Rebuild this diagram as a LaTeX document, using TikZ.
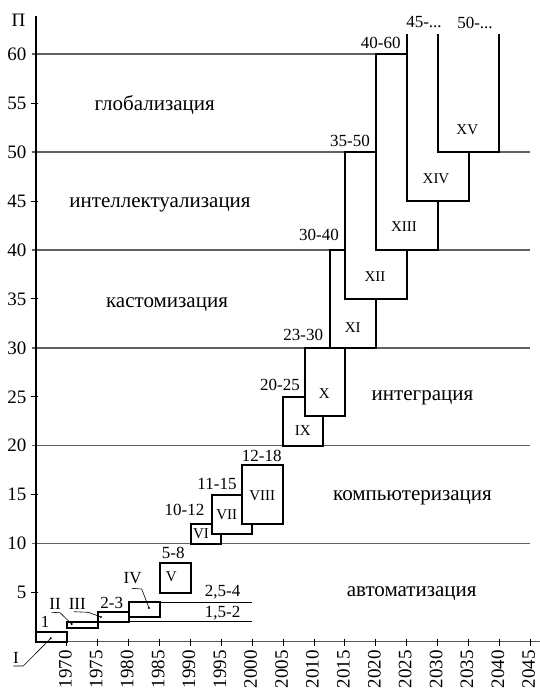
\documentclass[tikz,border=0pt]{standalone}
\usepackage{fontspec}
\setmainfont{Liberation Serif}
\begin{document}
\begin{tikzpicture}[x=1pt,y=-1pt,
  gridline/.style={draw=black!62, line width=1.5pt},
  axisline/.style={draw=black, line width=1.2pt},
  xaxisline/.style={draw=black!65, line width=1.5pt},
  tickline/.style={draw=black, line width=1pt},
  levline/.style={draw=black, line width=1.1pt},
  box/.style={draw=black, line width=2pt, fill=white, line join=miter},
  lead/.style={draw=black, line width=0.6pt},
  dotmark/.style={fill=black, circle, inner sep=0pt, minimum size=2.4pt},
  reglabel/.style={font=\fontsize{21}{24}\selectfont, inner sep=0pt},
  axnum/.style={font=\fontsize{19}{21}\selectfont, inner sep=0pt},
  rng/.style={font=\fontsize{17}{19}\selectfont, inner sep=0pt},
  rom/.style={font=\fontsize{15}{17}\selectfont, inner sep=0pt},
]
\useasboundingbox (0,0) rectangle (540,691);

% grid lines
\foreach \v/\yy in {10/543.6, 20/445.7, 30/347.8, 40/249.9, 50/152.0} {
  \draw[gridline] (32,\yy) -- (530.3,\yy);
}
\draw[gridline] (32,54.1) -- (375.8,54.1);

% axes
\draw[xaxisline] (36,641.5) -- (540,641.5);
\draw[axisline] (36,16) -- (36,641.5);

% y ticks at odd fives
\foreach \yy in {103.1, 201.0, 298.9, 396.8, 494.6, 592.6} {
  \draw[tickline] (31,\yy) -- (38,\yy);
}
% y tick labels
\foreach \lab/\yy in {60/54.1, 55/103.1, 50/152.0, 45/201.0, 40/249.9, 35/298.9, 30/347.8, 25/396.8, 20/445.7, 15/494.6, 10/543.6, 5/592.6} {
  \node[axnum, anchor=east] (yl\lab) at (26.5,\yy) {\lab};
}
\node[axnum] (ylab) at (18.5,20.5) {П};

% x ticks and labels
\foreach \yr [evaluate=\yr as \xx using {36+(\yr-1965)*6.178}] in {1970,1975,...,2045} {
  \draw[tickline] (\xx,638.5) -- (\xx,645.5);
  \node[axnum, rotate=90, anchor=east] (xl\yr) at (\xx-1.5,650) {\yr};
}

% level lines 1,5-2 and 2,5-4
\draw[levline] (128.7,621.7) -- (252.2,621.7);
\draw[levline] (159.6,602.3) -- (252.2,602.3);

% boxes
\draw[box] (36,631.7) rectangle (66.9,641.5);
\draw[box] (66.9,621.7) rectangle (97.8,628.0);
\draw[box] (97.8,612.1) rectangle (128.7,621.7);
\draw[box] (128.7,602.3) rectangle (159.6,617.0);
\draw[box] (159.6,563.2) rectangle (190.5,592.6);
\draw[box] (190.5,524.0) rectangle (221.3,543.6);
\draw[box] (211.7,494.6) rectangle (252.2,533.8);
\draw[box] (241.7,465.3) rectangle (283.1,524.0);
\draw[box] (283.1,396.8) rectangle (323.3,445.7);
\draw[box] (305.0,347.8) rectangle (344.9,416.3);
\draw[box] (330.0,249.9) rectangle (375.8,347.8);
\draw[box] (344.9,152.0) rectangle (406.7,298.9);
\draw[box] (375.8,54.1) rectangle (437.6,249.9);
\fill[white] (406.7,34.3) rectangle (468.5,201.0);
\draw[box, fill=none] (406.7,34.3) -- (406.7,201.0) -- (468.5,201.0) -- (468.5,34.3);
\fill[white] (437.6,34.3) rectangle (499.4,152.0);
\draw[box, fill=none] (437.6,34.3) -- (437.6,152.0) -- (499.4,152.0) -- (499.4,34.3);

% roman labels
\node[rom] (rV) at (171.3,576.7) {V};
\node[rom] (rVI) at (201,534) {VI};
\node[rom] (rVII) at (226.7,515) {VII};
\node[rom] (rVIII) at (262.3,496) {VIII};
\node[rom] (rIX) at (302.7,430.7) {IX};
\node[rom] (rX) at (324.3,394) {X};
\node[rom] (rXI) at (352.7,327.3) {XI};
\node[rom] (rXII) at (375,276.7) {XII};
\node[rom] (rXIII) at (404,226.7) {XIII};
\node[rom] (rXIV) at (436,179) {XIV};
\node[rom] (rXV) at (467.3,130) {XV};

% small labels outside boxes
\node[rng] (lI) at (16,658.3) {I};
\node[rng] (lII) at (55,604) {II};
\node[rng] (lIII) at (77.3,604) {III};
\node[rng] (lIV) at (132.7,578.3) {IV};
\node[rng] (n1) at (45,621.7) {1};
\node[rng] (n23) at (111.7,602.7) {2-3};
\node[rng] (n254) at (222.7,591.7) {2,5-4};
\node[rng] (n152) at (222.7,613.3) {1,5-2};
\node[rng] (n58) at (173.3,553.3) {5-8};
\node[rng] (n1012) at (184.5,510) {10-12};
\node[rng] (n1115) at (217,484) {11-15};
\node[rng] (n1218) at (261.7,455.8) {12-18};
\node[rng] (n2025) at (280,385) {20-25};
\node[rng] (n2330) at (303.3,335.3) {23-30};
\node[rng] (n3040) at (319,235.3) {30-40};
\node[rng] (n3550) at (350,140.8) {35-50};
\node[rng] (n4060) at (380.8,42.5) {40-60};
\node[rng] (n45) at (424,22.5) {45-...};
\node[rng] (n50) at (475,22.5) {50-...};

% leaders
\coordinate (aI1) at (13.3,666); \coordinate (aI2) at (23.3,666); \coordinate (aI3) at (50.7,638.3);
\coordinate (aII1) at (51.7,612.3); \coordinate (aII2) at (60,612.7); \coordinate (aII3) at (71.7,624);
\coordinate (aIII1) at (74,611.7); \coordinate (aIII2) at (88.3,612.3); \coordinate (aIII3) at (101,617);
\coordinate (aIV1) at (131.7,588.3); \coordinate (aIV2) at (141.7,589); \coordinate (aIV3) at (149,608);
\draw[lead] (aI1) -- (aI2) -- (aI3);
\draw[lead] (aII1) -- (aII2) -- (aII3);
\draw[lead] (aIII1) -- (aIII2) -- (aIII3);
\draw[lead] (aIV1) -- (aIV2) -- (aIV3);
\node[dotmark] (dI) at (aI3) {};
\node[dotmark] (dII) at (aII3) {};
\node[dotmark] (dIII) at (aIII3) {};
\node[dotmark] (dIV) at (aIV3) {};

% region labels
\node[reglabel, anchor=base] (g1) at (154.7,110) {глобализация};
\node[reglabel, anchor=base] (g2) at (160,207) {интеллектуализация};
\node[reglabel, anchor=base] (g3) at (167,307) {кастомизация};
\node[reglabel, anchor=base] (g4) at (422.5,400.7) {интеграция};
\node[reglabel, anchor=base] (g5) at (412.5,500.7) {компьютеризация};
\node[reglabel, anchor=base] (g6) at (411.7,596.7) {автоматизация};
\end{tikzpicture}
\end{document}
